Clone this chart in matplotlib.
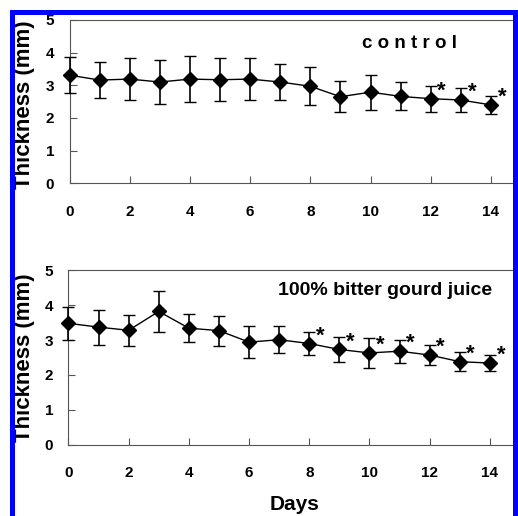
import matplotlib
matplotlib.use("Agg")
import matplotlib.pyplot as plt
from matplotlib.patches import Rectangle

plt.rcParams['font.family'] = ['Liberation Sans', 'DejaVu Sans']
plt.rcParams['font.weight'] = 'bold'

days = list(range(15))
control_mean = [3.31, 3.16, 3.19, 3.10, 3.19, 3.17, 3.19, 3.10, 2.97, 2.65, 2.79, 2.66, 2.59, 2.55, 2.40]
control_sd = [0.55, 0.55, 0.65, 0.67, 0.70, 0.66, 0.64, 0.55, 0.58, 0.48, 0.54, 0.43, 0.40, 0.37, 0.27]
juice_mean = [3.48, 3.37, 3.28, 3.82, 3.34, 3.27, 2.94, 3.01, 2.90, 2.73, 2.63, 2.68, 2.57, 2.38, 2.34]
juice_sd = [0.48, 0.50, 0.44, 0.58, 0.41, 0.43, 0.45, 0.39, 0.34, 0.36, 0.42, 0.33, 0.29, 0.27, 0.22]
control_sig = [12, 13, 14]
juice_sig = [8, 9, 10, 11, 12, 13, 14]

spine_col = '#555555'


def plot_panel(ax, mean, sd, sig, title, title_xy, title_size):
    ax.errorbar(days, mean, yerr=sd, color='black', lw=1.0, elinewidth=1.2,
                capsize=4, capthick=1.0, marker='D', markersize=7, zorder=3,
                clip_on=False)
    for d in sig:
        ax.annotate('*', (d, mean[d]), xytext=(11, 2), textcoords='offset pixels',
                    ha='center', va='baseline', fontsize=16, fontweight='bold')
    ax.text(title_xy[0], title_xy[1], title, ha='center', va='center',
            fontsize=title_size, fontweight='bold')
    ax.set_xlim(0, 15)
    ax.set_ylim(0, 5)
    ax.set_xticks(range(0, 15, 2))
    ax.set_yticks(range(0, 6))
    ax.tick_params(axis='both', direction='in', length=5, width=0.8, color=spine_col,
                   labelsize=11)
    ax.tick_params(axis='x', pad=15.5)
    ax.tick_params(axis='y', pad=11)
    for s in ax.spines.values():
        s.set_color(spine_col)
        s.set_linewidth(0.8)
    ax.set_ylabel('Thickness (mm)', fontsize=16, fontweight='bold')


fig = plt.figure(figsize=(5.18, 5.16), dpi=100)
ax1 = fig.add_axes([0.1342, 0.6448, 0.8716, 0.3165])
ax2 = fig.add_axes([0.1322, 0.1382, 0.8716, 0.338])

plot_panel(ax1, control_mean, control_sd, control_sig, 'c o n t r o l', (11.31, 4.28), 13.5)
plot_panel(ax2, juice_mean, juice_sd, juice_sig, '100% bitter gourd juice', (10.51, 4.42), 14)

ax1.yaxis.set_label_coords(-0.077, 0.48)
ax2.yaxis.set_label_coords(-0.075, 0.5)
ax2.set_xlabel('Days', fontsize=15, fontweight='bold')
ax2.xaxis.set_label_coords(0.5, -0.29)

# blue frame round the figure
fig.add_artist(Rectangle((11.5 / 518, -0.05), 503 / 518, 1.05 - 11.5 / 516,
                         transform=fig.transFigure, fill=False, edgecolor='#0000ff',
                         linewidth=3.6, zorder=10))

plt.savefig('out.png', dpi=100)
